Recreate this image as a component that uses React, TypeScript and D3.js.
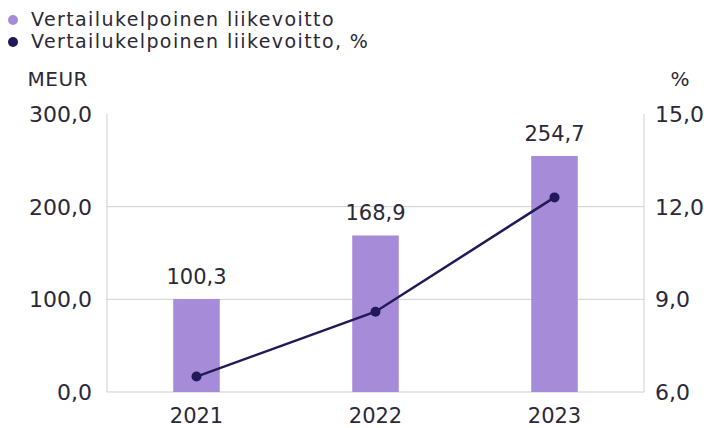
import React from "react";
import * as d3 from "d3";

const years = ["2021", "2022", "2023"];
const profit = [100.3, 168.9, 254.7];
const profitPct = [6.5, 8.6, 12.3];
const leftTicks = [0, 100, 200, 300];
const rightTicks = [6, 9, 12, 15];
const legendLabels = ["Vertailukelpoinen liikevoitto", "Vertailukelpoinen liikevoitto, %"];

const W = 704, H = 428;
const M = { left: 107, right: 644, top: 114, bottom: 392 };
const FONT = "'DejaVu Sans', sans-serif";
const TEXT = "#2b2838";
const BAR = "#a68bd8";
const LINE = "#221a58";
const GRID = "#cfcfcf";

const fmt = (v: number) => v.toFixed(1).replace(".", ",");

export default function App() {
  const x = d3.scaleBand<string>().domain(years).range([M.left, M.right]).paddingInner(0.74).paddingOuter(0.37);
  const yL = d3.scaleLinear().domain([0, 300]).range([M.bottom, M.top]);
  const yR = d3.scaleLinear().domain([6, 15]).range([M.bottom, M.top]);
  const cx = (d: string) => (x(d) as number) + x.bandwidth() / 2;
  const line = d3.line<number>().x((_, i) => cx(years[i])).y((v) => yR(v));

  return (
    <svg width={W} height={H} style={{ position: "absolute", left: 0, top: 0, background: "#fff" }} fontFamily={FONT}>
      {/* legend */}
      {legendLabels.map((l, i) => (
        <g key={l}>
          <circle cx={13} cy={20 + i * 22} r={5} fill={i === 0 ? BAR : LINE} />
          <text x={31} y={26 + i * 22} fontSize={19} letterSpacing={1.4} fill={TEXT}>{l}</text>
        </g>
      ))}
      <text x={88} y={86} fontSize={20} letterSpacing={0.5} fill={TEXT} textAnchor="end">MEUR</text>
      <text x={680} y={86} fontSize={20} fill={TEXT} textAnchor="middle">%</text>
      {/* grid */}
      {leftTicks.filter((t) => t < 300).map((t) => (
        <line key={t} x1={M.left} x2={M.right} y1={yL(t)} y2={yL(t)} stroke={GRID} strokeWidth={1} />
      ))}
      <line x1={M.left} x2={M.left} y1={M.top} y2={M.bottom} stroke={GRID} />
      <line x1={M.right} x2={M.right} y1={M.top} y2={M.bottom} stroke={GRID} />
      {leftTicks.map((t) => (
        <text key={t} x={92} y={yL(t)} dy="0.36em" fontSize={22} fill={TEXT} textAnchor="end">{fmt(t)}</text>
      ))}
      {rightTicks.map((t) => (
        <text key={t} x={655} y={yR(t)} dy="0.36em" fontSize={22} fill={TEXT} textAnchor="start">{fmt(t)}</text>
      ))}
      {/* bars */}
      {profit.map((v, i) => (
        <g key={years[i]}>
          <rect x={x(years[i])} y={yL(v)} width={x.bandwidth()} height={yL(0) - yL(v)} fill={BAR} />
          <text x={cx(years[i])} y={yL(v) - 15} fontSize={21} fill={TEXT} textAnchor="middle">{fmt(v)}</text>
          <text x={cx(years[i])} y={423} fontSize={21} fill={TEXT} textAnchor="middle">{years[i]}</text>
        </g>
      ))}
      <path d={line(profitPct) || ""} fill="none" stroke={LINE} strokeWidth={2.5} />
      {profitPct.map((v, i) => (
        <circle key={i} cx={cx(years[i])} cy={yR(v)} r={5} fill={LINE} />
      ))}
    </svg>
  );
}
